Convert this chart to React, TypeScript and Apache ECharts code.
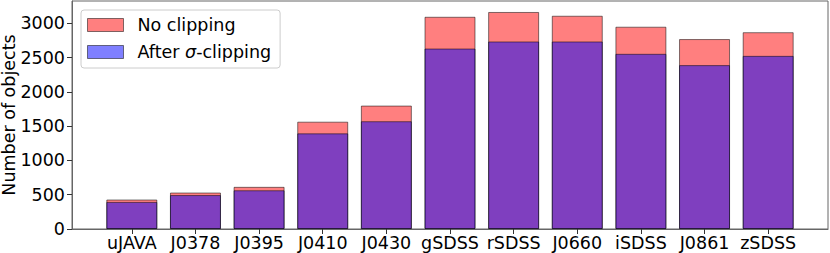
import React, { useEffect, useRef } from "react";
import * as echarts from "echarts";

const categories = ["uJAVA", "J0378", "J0395", "J0410", "J0430", "gSDSS", "rSDSS", "J0660", "iSDSS", "J0861", "zSDSS"];
const noClipping = [430, 532, 615, 1565, 1800, 3095, 3165, 3110, 2950, 2770, 2870];
const afterClipping = [395, 495, 565, 1395, 1572, 2632, 2735, 2735, 2555, 2390, 2525];
const yTicks = [0, 500, 1000, 1500, 2000, 2500, 3000];
const xTicks = categories.map((_, i) => i);

const FONT = "DejaVu Sans";
const FS = 17.5;

export default function App() {
  const ref = useRef<HTMLDivElement>(null);
  useEffect(() => {
    if (!ref.current) return;
    const chart = echarts.init(ref.current, undefined, { renderer: "svg" });
    const frame = "#666";
    chart.setOption({
      animation: false,
      grid: {
        left: 72,
        top: 1,
        width: 756,
        height: 228,
        containLabel: false,
        outerBoundsMode: "none",
        show: true,
        borderColor: frame,
        borderWidth: 1,
        backgroundColor: "transparent",
      },
      legend: {
        left: 81,
        top: 10,
        orient: "vertical",
        icon: "rect",
        itemWidth: 36,
        itemHeight: 13,
        itemGap: 9,
        padding: [6, 9, 7, 6],
        backgroundColor: "rgba(255,255,255,0.8)",
        borderColor: "#cccccc",
        borderWidth: 1,
        borderRadius: 3,
        textStyle: {
          fontFamily: FONT,
          fontSize: FS,
          color: "#000",
          rich: {
            s: { width: 9 },
            t: { fontFamily: FONT, fontSize: FS, color: "#000" },
            i: { fontFamily: FONT, fontSize: FS, fontStyle: "italic", color: "#000" },
          },
        },
        formatter: (name: string) =>
          name === "After σ-clipping" ? "{s|}{t|After }{i|σ}{t|-clipping}" : "{s|}{t|" + name + "}",
        data: [
          { name: "No clipping", itemStyle: { color: "rgba(255,0,0,0.5)", borderColor: "rgba(0,0,0,0.5)", borderWidth: 1 } },
          { name: "After σ-clipping", itemStyle: { color: "rgba(0,0,255,0.5)", borderColor: "rgba(0,0,0,0.5)", borderWidth: 1 } },
        ],
      },
      xAxis: {
        type: "value",
        min: -0.94,
        max: 10.94,
        splitLine: { show: false },
        axisLine: { show: true, onZero: false, lineStyle: { color: frame, width: 1 } },
        axisTick: { show: true, customValues: xTicks, length: 5, lineStyle: { color: "#333" } },
        axisLabel: {
          customValues: xTicks,
          formatter: (v: number) => categories[Math.round(v)] ?? "",
          fontFamily: FONT,
          fontSize: FS,
          lineHeight: 18,
          color: "#000",
          margin: 5,
        },
      },
      yAxis: {
        type: "value",
        min: 0,
        max: 3325,
        name: "Number of objects",
        nameLocation: "middle",
        nameGap: 54,
        nameMoveOverlap: false,
        nameTextStyle: { fontFamily: FONT, fontSize: FS, color: "#000" },
        splitLine: { show: false },
        axisLine: { show: true, onZero: false, lineStyle: { color: frame, width: 1 } },
        axisTick: { show: true, customValues: yTicks, length: 5, lineStyle: { color: "#333" } },
        axisLabel: {
          customValues: yTicks,
          formatter: (v: number) => String(v),
          fontFamily: FONT,
          fontSize: FS,
          color: "#000",
          margin: 7,
        },
      },
      series: [
        {
          name: "No clipping",
          type: "bar",
          barWidth: 51,
          barGap: "-100%",
          data: noClipping.map((v, i) => [i, v]),
          itemStyle: { color: "rgba(255,0,0,0.5)", borderColor: "rgba(0,0,0,0.5)", borderWidth: 1 },
        },
        {
          name: "After σ-clipping",
          type: "bar",
          barWidth: 51,
          barGap: "-100%",
          data: afterClipping.map((v, i) => [i, v]),
          itemStyle: { color: "rgba(0,0,255,0.5)", borderColor: "rgba(0,0,0,0.5)", borderWidth: 1 },
        },
      ],
    });
    return () => chart.dispose();
  }, []);
  return <div ref={ref} style={{ width: 830, height: 253, position: "absolute", left: 0, top: 0 }} />;
}
